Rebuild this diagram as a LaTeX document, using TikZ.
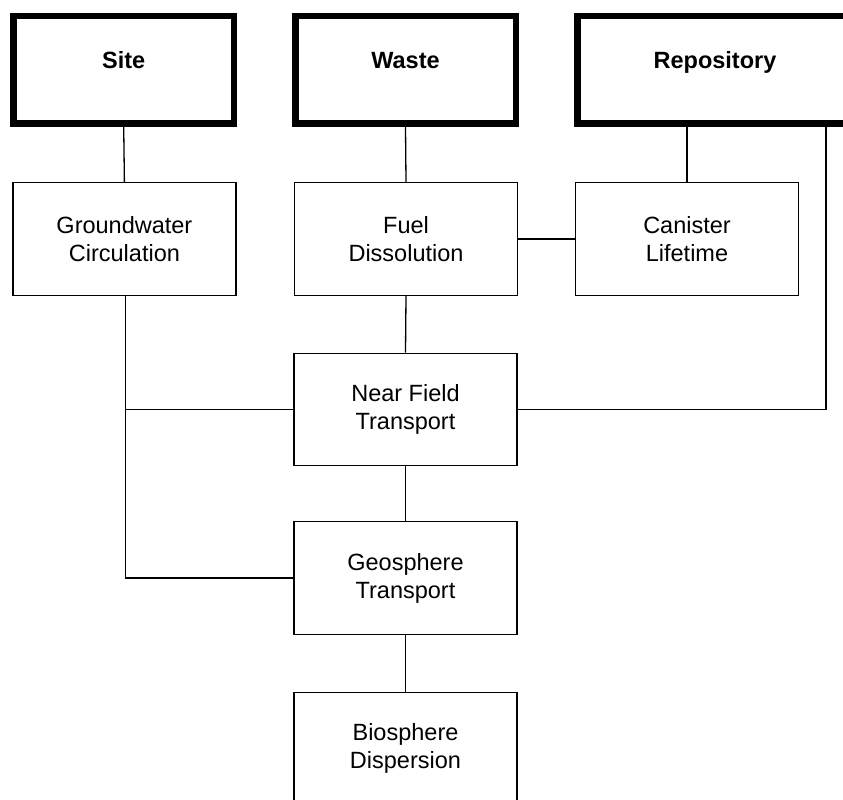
\documentclass[tikz,border=0pt]{standalone}
\usepackage{fontspec}
\setmainfont{Liberation Sans}
\begin{document}
\begin{tikzpicture}[x=1pt,y=-1pt,
  topbox/.style={draw, line width=6.5pt, minimum width=220.5pt, minimum height=107.5pt,
    inner sep=0pt, font=\fontsize{23.5}{28}\selectfont\bfseries, text height=17pt, text depth=19.5pt},
  procbox/.style={draw, line width=1.3pt, minimum width=223pt, minimum height=112.5pt,
    inner sep=0pt, align=center, font=\fontsize{23.5}{28}\selectfont},
  conn/.style={line width=1.3pt}]
\useasboundingbox (0,0) rectangle (843,800);
\begin{scope}
\clip (0,0) rectangle (843,800);
\fill[white] (0,0) rectangle (843,800);
\node[topbox] (site) at (123.7,69.75) {Site};
\node[topbox] (waste) at (405.5,69.75) {Waste};
\node[topbox, minimum width=275pt] (repo) at (715,69.75) {Repository};
\node[procbox] (gw) at (124.4,239) {Groundwater\\Circulation};
\node[procbox] (fuel) at (406,239) {Fuel\\Dissolution};
\node[procbox] (can) at (687,239) {Canister\\Lifetime};
\node[procbox] (near) at (405.5,409.5) {Near Field\\Transport};
\node[procbox] (geo) at (405.5,578) {Geosphere\\Transport};
\node[procbox] (bio) at (405.5,748.5) {Biosphere\\Dispersion};
\coordinate (rr) at (826,409.5);
\coordinate (gl) at (125.7,578);
\draw[conn] (site.south) -- (gw.north);
\draw[conn] (waste.south) -- (fuel.north);
\draw[conn] (repo.south -| can.north) -- (can.north);
\draw[conn] (fuel.east) -- (can.west);
\draw[conn] (fuel.south) -- (near.north);
\draw[conn] (near.south) -- (geo.north);
\draw[conn] (geo.south) -- (bio.north);
\draw[conn] (repo.south -| rr) -- (rr) -- (near.east);
\draw[conn] (gw.south -| gl) -- (gl) -- (geo.west);
\draw[conn] (near.west) -- (near.west -| gl);
\end{scope}
\end{tikzpicture}
\end{document}
